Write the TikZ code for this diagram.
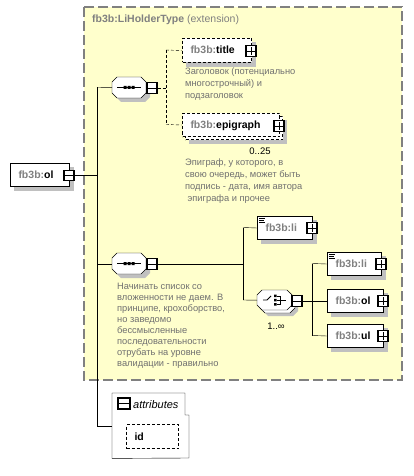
\documentclass[tikz,border=0pt]{standalone}
\usepackage{fontspec}
\setmainfont{Liberation Sans}
\usetikzlibrary{calc}
\definecolor{ybg}{HTML}{FFFFCC}
\definecolor{bgray}{HTML}{808080}
\definecolor{shgray}{HTML}{C0C0C0}
\definecolor{pgray}{HTML}{808080}
\definecolor{dgray}{HTML}{707070}
\pgfdeclarelayer{bglayer}
\pgfdeclarelayer{shlayer}
\pgfsetlayers{bglayer,shlayer,main}
\newcommand\pfx{\textcolor{pgray}{fb3b:}}
\newcommand\shadowof[1]{\begin{pgfonlayer}{shlayer}\fill[shgray] ([shift={(4,4)}]#1.north west) rectangle ([shift={(4,4)}]#1.south east);\end{pgfonlayer}}
\newcommand\octo[5]{\path[#5] (#1+5,#2) -- (#1+#3-5,#2) -- (#1+#3,#2+5) -- (#1+#3,#2+#4-5) -- (#1+#3-5,#2+#4) -- (#1+5,#2+#4) -- (#1,#2+#4-5) -- (#1,#2+5) -- cycle;}
\newcommand\minusg[1]{\draw[line width=0.9pt] ([xshift=2pt]#1.west) -- ([xshift=-2pt]#1.east);}
\newcommand\plusg[1]{\minusg{#1}\draw[line width=0.9pt] ([yshift=-2pt]#1.north) -- ([yshift=2pt]#1.south);}
\newcommand\liicon[1]{\draw[line width=0.8pt] ([shift={(2,2)}]#1.north west) -- ++(6,0) ([shift={(2,4)}]#1.north west) -- ++(5,0) ([shift={(2,6)}]#1.north west) -- ++(6,0);}
\newcommand\seqicon[2]{\draw[line width=0.9pt] (#1-12,#2) -- (#1+12,#2);
  \fill (#1-5.5,#2-1.5) rectangle ++(3,3) (#1-1.5,#2-1.5) rectangle ++(3,3) (#1+2.5,#2-1.5) rectangle ++(3,3);}
\begin{document}
\begin{tikzpicture}[x=1pt,y=-1pt,line width=1pt,
  elbox/.style={draw, fill=white, line width=1pt, anchor=north west, inner xsep=8pt, inner ysep=0pt,
    minimum height=23pt, text height=8.5pt, text depth=1.5pt, align=left,
    font=\fontsize{10.5}{12}\selectfont\bfseries},
  dsh/.style={dash pattern=on 3pt off 2pt},
  pm/.style={draw, fill=white, line width=1.2pt, minimum width=10pt, minimum height=10.5pt, inner sep=0pt},
  hold/.style={anchor=north west, inner sep=0pt},
  desc/.style={anchor=north west, inner sep=0pt, align=left, text=dgray, font=\fontsize{9.3}{12}\selectfont},
  card/.style={inner sep=0pt, font=\fontsize{9.5}{11}\selectfont}]
\begin{pgfonlayer}{bglayer}
\fill[white] (0,0) rectangle (413,476);
\draw[bgray, line width=1.5pt, dash pattern=on 10pt off 4pt, fill=ybg] (84,7) rectangle (402,380);
\end{pgfonlayer}
\useasboundingbox (0,0) rectangle (413,476);

\node[anchor=base west, inner sep=0pt, font=\fontsize{10.5}{12}\selectfont, text=pgray] (hdr) at (92,23) {\textbf{fb3b:LiHolderType} (extension)};

% root element
\node[elbox, text width=43pt] (root) at (10,163) {\pfx ol};
\shadowof{root}
\node[pm] (rootm) at (69,175.5) {}; \minusg{rootm}

% sequence 1
\node[hold, minimum width=34pt, minimum height=21pt] (seq1) at (112,77) {};
\begin{pgfonlayer}{shlayer}\octo{116}{81}{34}{21}{fill=shgray}\end{pgfonlayer}
\octo{112}{77}{34}{21}{draw, fill=white}
\seqicon{129}{87.5}
\node[pm] (seq1m) at (152,88) {}; \minusg{seq1m}

% title
\node[elbox, dsh, text width=53pt, minimum height=24pt] (title) at (182,38) {\pfx title};
\shadowof{title}
\node[pm] (titlep) at (251,51) {}; \plusg{titlep}
\node[desc] (d1) at (185,68) {Заголовок (потенциально\\многострочный) и\\подзаголовок};

% epigraph (multiple)
\node[elbox, dsh, text width=81pt] (epi2) at (185,116) {};
\begin{pgfonlayer}{shlayer}\fill[shgray] ([shift={(4,4)}]epi2.north west) rectangle ([shift={(4,4)}]epi2.south east);\end{pgfonlayer}
\node[elbox, dsh, text width=81pt] (epi) at (182,113) {\pfx epigraph};
\node[pm] (epip) at (279,126) {}; \plusg{epip}
\node[card] (epic) at (260,151) {0..25};
\node[desc] (d2) at (185,159) {Эпиграф, у которого, в\\свою очередь, может быть\\подпись - дата, имя автора\\\hspace*{2.5pt}эпиграфа и прочее};

% sequence 2
\node[hold, minimum width=34pt, minimum height=21pt] (seq2) at (112,253) {};
\begin{pgfonlayer}{shlayer}\octo{116}{257}{34}{21}{fill=shgray}\end{pgfonlayer}
\octo{112}{253}{34}{21}{draw, fill=white}
\seqicon{129}{263.5}
\node[pm] (seq2m) at (152,264) {}; \minusg{seq2m}
\node[desc, font=\fontsize{9.3}{11}\selectfont] (d3) at (117,283) {Начинать список со\\вложенности не даем. В\\принципе, крохоборство,\\но заведомо\\бессмысленные\\последовательности\\отрубать на уровне\\валидации - правильно};

% li
\node[elbox, text width=39pt] (li1) at (257,216) {\textcolor{pgray}{fb3b:li}};
\shadowof{li1}
\liicon{li1}
\node[pm] (li1p) at (312,228) {}; \plusg{li1p}

% choice
\node[hold, minimum width=35pt, minimum height=20pt] (ch) at (257,290) {};
\begin{pgfonlayer}{shlayer}\octo{263}{296}{35}{20}{fill=shgray}\end{pgfonlayer}
\octo{260}{293}{35}{20}{draw, fill=white}
\octo{257}{290}{35}{20}{draw, fill=white}
\draw[line width=0.9pt] (263,300) -- (267,300) -- (271,296);
\fill (274,294.5) rectangle ++(2.5,2.5) (274,298.8) rectangle ++(2.5,2.5) (274,303) rectangle ++(2.5,2.5);
\draw[line width=0.9pt] (277,296) -- (280.5,296) -- (280.5,304.2) -- (277,304.2) (277,300) -- (286,300);
\node[pm] (chm) at (297,301) {}; \minusg{chm}
\node[card] (chc) at (276,326) {1..∞};

\node[elbox, text width=38pt] (li2) at (327,252) {\textcolor{pgray}{fb3b:li}};
\shadowof{li2}
\liicon{li2}
\node[pm] (li2p) at (381,264) {}; \plusg{li2p}

\node[elbox, text width=40pt] (ol2) at (327,289) {\pfx ol};
\shadowof{ol2}
\node[pm] (ol2p) at (383,301) {}; \plusg{ol2p}

\node[elbox, text width=40pt] (ul) at (327,324) {\pfx ul};
\shadowof{ul}
\node[pm] (ulp) at (383,336) {}; \plusg{ulp}

% attributes
\node[hold, minimum width=77pt, minimum height=65pt] (attr) at (112,393) {};
\draw[fill=white] (attr.north west) -- (185,393) -- (185,415) -- (189,415) -- (189,458) -- (attr.south west) -- cycle;
\node[pm, minimum width=12pt, minimum height=11pt] (attrm) at (124,403.5) {}; \minusg{attrm}
\node[anchor=base west, inner sep=0pt, font=\fontsize{11}{12}\selectfont\itshape] (attrt) at (133,408) {attributes};
\node[elbox, dsh, text width=36pt, minimum height=24pt] (idn) at (126,424) {id};
\shadowof{idn}

% connectors
\coordinate (spA) at (97,87.5);
\coordinate (spB) at (97,426);
\draw (spA) -- (spB);
\draw (rootm.east) -- (rootm.east -| spA);
\draw (spA) -- (seq1.west);
\draw (seq2.west -| spA) -- (seq2.west);
\draw (spB) -- (attr.west |- spB);

\coordinate (jA) at (166,50);
\coordinate (jB) at (166,124.5);
\draw[dsh] (seq1m.east) -- (seq1m.east -| jA);
\draw[dsh] (jA) -- (jB);
\draw[dsh] (jA) -- (title.west);
\draw[dsh] (jB) -- (epi.west);

\coordinate (jC) at (243,227.5);
\coordinate (jD) at (243,300);
\draw (seq2m.east) -- (seq2m.east -| jC);
\draw (jC) -- (jD);
\draw (jC) -- (li1.west);
\draw (jD) -- (ch.west);

\coordinate (jE) at (312,263.5);
\coordinate (jF) at (312,335.5);
\draw (chm.east) -- (chm.east -| jE);
\draw (jE) -- (jF);
\draw (jE) -- (li2.west);
\draw (ol2.west -| jE) -- (ol2.west);
\draw (jF) -- (ul.west);
\end{tikzpicture}
\end{document}
